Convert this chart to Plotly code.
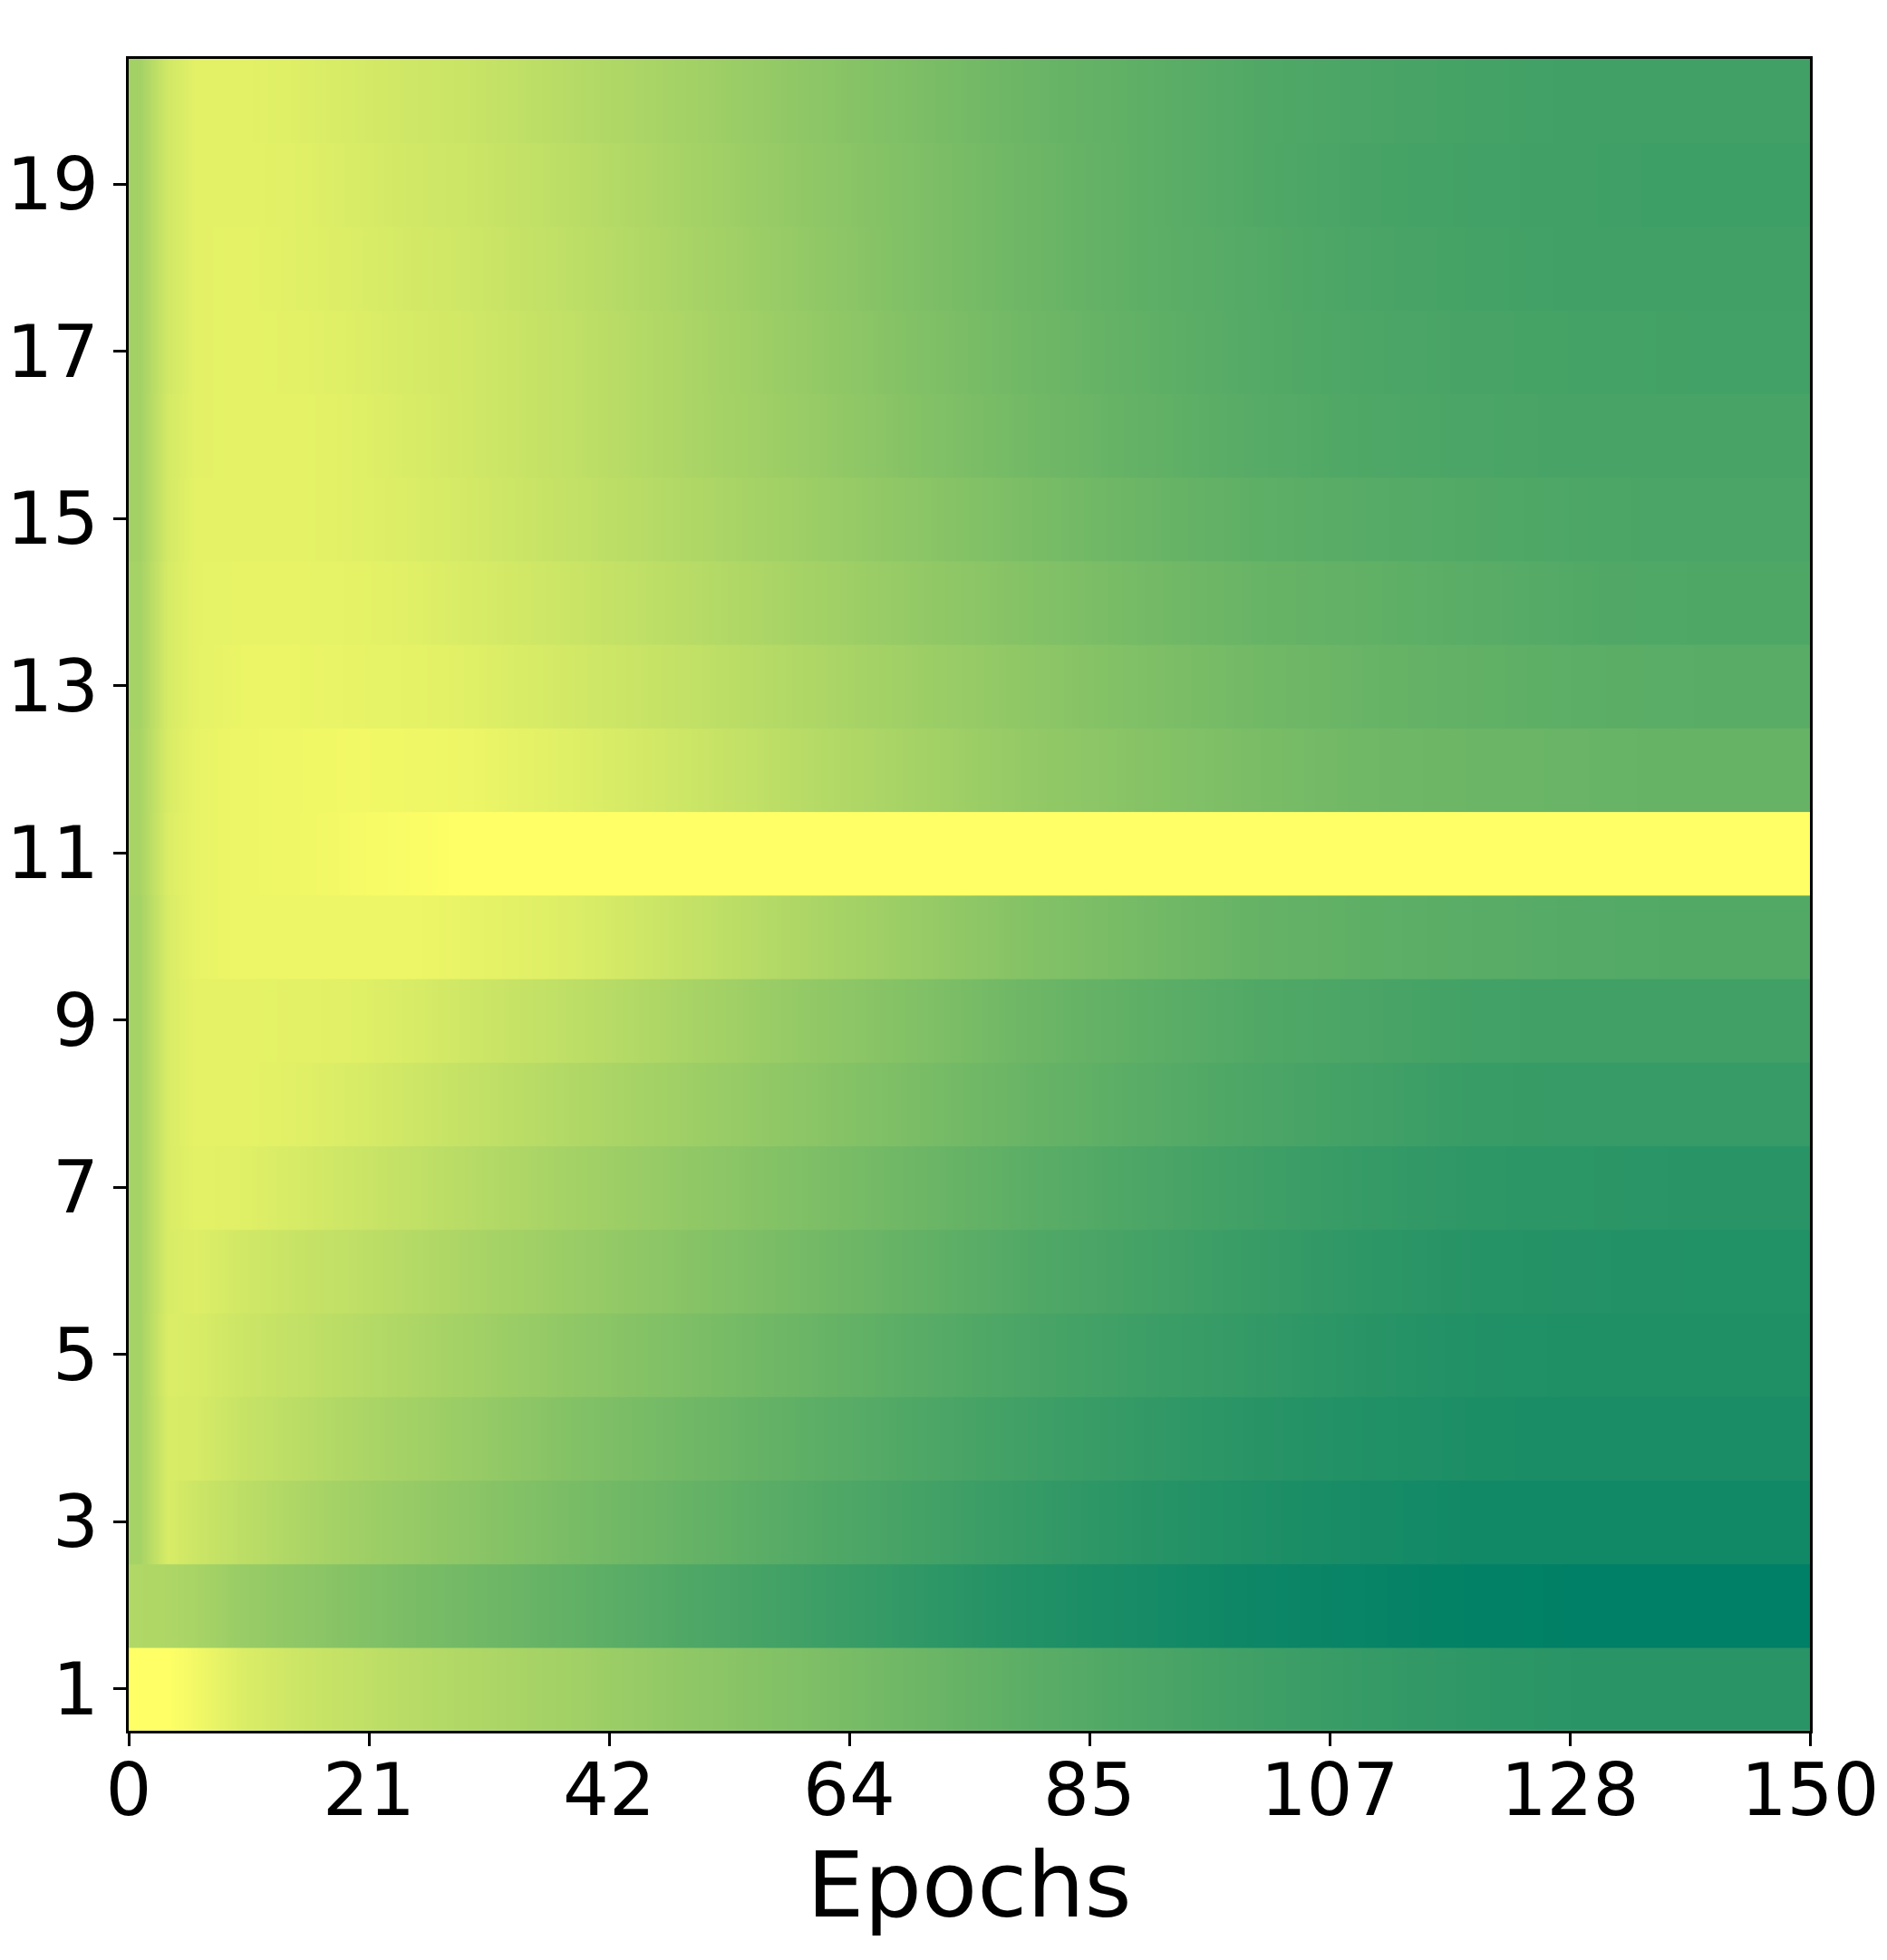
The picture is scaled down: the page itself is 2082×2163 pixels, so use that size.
import numpy as np
import plotly.graph_objects as go

epochs = [1, 3.5, 6, 10, 15, 20, 25, 30, 40, 50, 60, 70, 80, 90, 100, 110, 120, 130, 140, 149.5]

row_01 = [1.00, 1.00, 0.95, 0.86, 0.80, 0.76, 0.72, 0.69, 0.63, 0.56, 0.50, 0.43, 0.36, 0.30, 0.25, 0.21, 0.18, 0.16, 0.16, 0.16]
row_02 = [0.69, 0.68, 0.66, 0.60, 0.56, 0.52, 0.48, 0.45, 0.38, 0.31, 0.25, 0.19, 0.13, 0.09, 0.05, 0.03, 0.01, 0.00, 0.00, 0.00]
row_03 = [0.65, 0.85, 0.80, 0.74, 0.68, 0.63, 0.59, 0.55, 0.47, 0.40, 0.33, 0.27, 0.21, 0.16, 0.12, 0.09, 0.07, 0.07, 0.07, 0.07]
row_04 = [0.65, 0.85, 0.84, 0.78, 0.73, 0.68, 0.64, 0.60, 0.51, 0.44, 0.37, 0.31, 0.25, 0.20, 0.16, 0.13, 0.11, 0.10, 0.10, 0.10]
row_05 = [0.65, 0.86, 0.85, 0.80, 0.76, 0.72, 0.68, 0.64, 0.56, 0.49, 0.42, 0.35, 0.29, 0.24, 0.20, 0.16, 0.13, 0.12, 0.12, 0.12]
row_06 = [0.65, 0.85, 0.87, 0.82, 0.78, 0.75, 0.71, 0.67, 0.60, 0.53, 0.46, 0.39, 0.32, 0.27, 0.22, 0.18, 0.15, 0.14, 0.13, 0.13]
row_07 = [0.65, 0.85, 0.89, 0.88, 0.84, 0.80, 0.76, 0.72, 0.64, 0.57, 0.50, 0.43, 0.36, 0.30, 0.25, 0.21, 0.18, 0.17, 0.16, 0.16]
row_08 = [0.65, 0.85, 0.90, 0.90, 0.88, 0.85, 0.81, 0.77, 0.69, 0.62, 0.55, 0.48, 0.41, 0.35, 0.30, 0.26, 0.22, 0.21, 0.21, 0.21]
row_09 = [0.65, 0.85, 0.90, 0.90, 0.89, 0.88, 0.85, 0.81, 0.74, 0.66, 0.58, 0.51, 0.43, 0.37, 0.32, 0.29, 0.26, 0.25, 0.25, 0.25]
row_10 = [0.65, 0.85, 0.91, 0.93, 0.93, 0.93, 0.93, 0.91, 0.86, 0.77, 0.68, 0.60, 0.52, 0.46, 0.40, 0.37, 0.35, 0.33, 0.32, 0.32]
row_11 = [0.66, 0.86, 0.91, 0.93, 0.94, 0.96, 0.98, 1.00, 1.00, 1.00, 1.00, 1.00, 1.00, 1.00, 1.00, 1.00, 1.00, 1.00, 1.00, 1.00]
row_12 = [0.66, 0.85, 0.91, 0.93, 0.94, 0.95, 0.94, 0.93, 0.87, 0.80, 0.72, 0.65, 0.58, 0.53, 0.48, 0.44, 0.42, 0.41, 0.40, 0.40]
row_13 = [0.65, 0.84, 0.90, 0.92, 0.92, 0.91, 0.90, 0.88, 0.82, 0.76, 0.69, 0.62, 0.56, 0.50, 0.45, 0.41, 0.38, 0.36, 0.35, 0.35]
row_14 = [0.65, 0.84, 0.90, 0.91, 0.91, 0.90, 0.88, 0.85, 0.79, 0.72, 0.65, 0.58, 0.52, 0.46, 0.41, 0.38, 0.35, 0.32, 0.31, 0.31]
row_15 = [0.64, 0.83, 0.90, 0.90, 0.90, 0.88, 0.86, 0.83, 0.76, 0.69, 0.62, 0.55, 0.48, 0.42, 0.37, 0.34, 0.32, 0.30, 0.29, 0.29]
row_16 = [0.64, 0.83, 0.89, 0.90, 0.90, 0.88, 0.85, 0.82, 0.75, 0.67, 0.60, 0.52, 0.45, 0.39, 0.34, 0.31, 0.29, 0.28, 0.28, 0.28]
row_17 = [0.64, 0.82, 0.89, 0.90, 0.89, 0.87, 0.84, 0.82, 0.75, 0.67, 0.59, 0.51, 0.44, 0.38, 0.33, 0.30, 0.28, 0.27, 0.26, 0.26]
row_18 = [0.64, 0.82, 0.89, 0.90, 0.88, 0.86, 0.83, 0.81, 0.74, 0.66, 0.58, 0.50, 0.43, 0.37, 0.33, 0.29, 0.27, 0.25, 0.25, 0.25]
row_19 = [0.64, 0.82, 0.89, 0.89, 0.88, 0.85, 0.82, 0.80, 0.73, 0.65, 0.57, 0.50, 0.43, 0.37, 0.32, 0.28, 0.26, 0.25, 0.24, 0.24]
row_20 = [0.64, 0.82, 0.89, 0.89, 0.87, 0.84, 0.81, 0.79, 0.71, 0.64, 0.56, 0.49, 0.42, 0.37, 0.32, 0.29, 0.27, 0.25, 0.25, 0.25]

rows = [row_01, row_02, row_03, row_04, row_05, row_06, row_07, row_08, row_09, row_10,
        row_11, row_12, row_13, row_14, row_15, row_16, row_17, row_18, row_19, row_20]
row_ids = list(range(1, 21))

y_ticks = [1, 3, 5, 7, 9, 11, 13, 15, 17, 19]
x_ticks = list(np.linspace(0, 150, 8))
x_tick_labels = [str(int(v)) for v in x_ticks]

# matplotlib "summer" colormap
summer = [[0.0, "rgb(0,128,102)"], [1.0, "rgb(255,255,102)"]]

fig = go.Figure()
for rid, vals in zip(row_ids, rows):
    fig.add_trace(go.Heatmap(
        x=epochs,
        y=[rid - 0.255, rid + 0.255],   # two identical rows -> one band, slight overlap hides seams
        z=[vals, vals],
        zmin=0, zmax=1,
        colorscale=summer,
        zsmooth="best",
        showscale=False,
        hoverinfo="skip",
    ))

axis_common = dict(
    showline=True, mirror=True, linecolor="black", linewidth=3,
    ticks="outside", ticklen=14, tickwidth=3, tickcolor="black",
    showgrid=False, zeroline=False, automargin=False,
    tickfont=dict(family="DejaVu Sans", size=80, color="black"),
)

fig.update_xaxes(range=[0, 150], tickvals=x_ticks, ticktext=x_tick_labels,
                 ticklabelstandoff=-20,
                 title=dict(text="Epochs", font=dict(family="DejaVu Sans", size=100, color="black"),
                            standoff=8),
                 **axis_common)
fig.update_yaxes(range=[0.5, 20.5], tickvals=y_ticks, **axis_common)

fig.update_layout(
    width=2082, height=2163,
    margin=dict(l=134, r=93, t=57, b=261),
    paper_bgcolor="white", plot_bgcolor="white",
    showlegend=False,
)

fig.write_html("out.html")
